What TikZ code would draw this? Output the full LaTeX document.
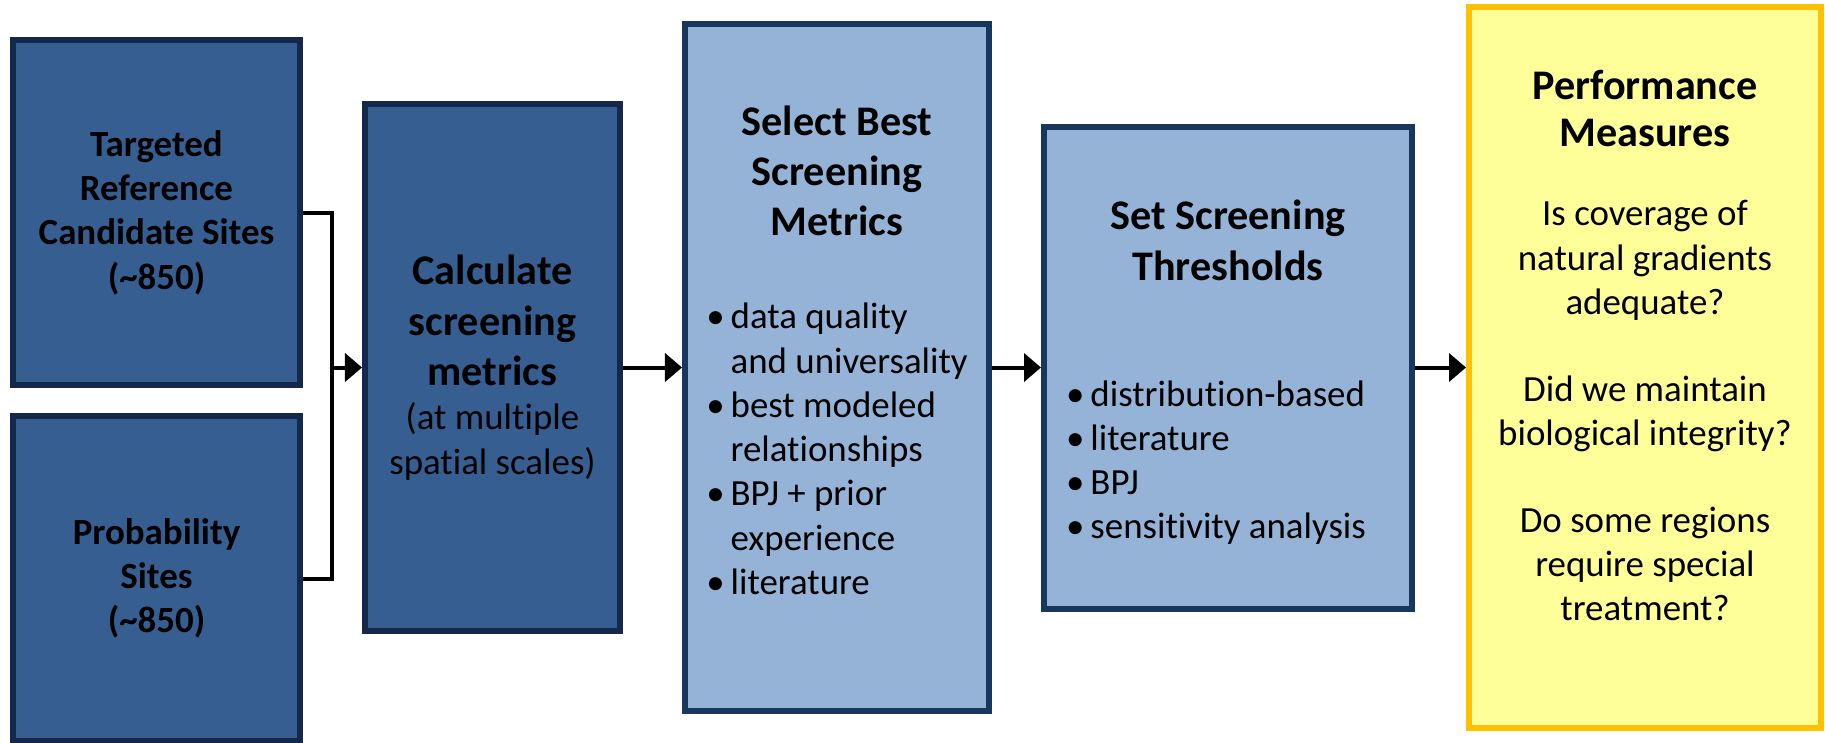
\documentclass[tikz,border=0pt]{standalone}
\usepackage{fontspec}
\setmainfont{Carlito}[Ligatures=NoCommon]
\usetikzlibrary{positioning,arrows.meta}

\definecolor{steelfill}{HTML}{365E91}
\definecolor{navyline}{HTML}{14284B}
\definecolor{palefill}{HTML}{95B3D7}
\definecolor{paleline}{HTML}{17375E}
\definecolor{lemonfill}{HTML}{FFFF99}
\definecolor{amberline}{HTML}{FFC000}

\newcommand{\headsize}{\fontsize{24}{28.7}\selectfont\bfseries}
\newcommand{\bodysize}{\fontsize{21}{25.2}\selectfont}

\begin{document}
\begin{tikzpicture}[
  box/.style={draw, line width=0.12cm, align=flush center, inner sep=0pt},
  darkbox/.style={box, draw=navyline, fill=steelfill, font=\bodysize},
  lightbox/.style={box, draw=paleline, fill=palefill, font=\bodysize},
  perfbox/.style={box, draw=amberline, fill=lemonfill, font=\bodysize},
  arr/.style={-{Triangle[length=0.34cm, width=0.56cm]}, line width=0.08cm},
  bar/.style={line width=0.08cm}
]
\useasboundingbox (-9.85,-7.51) rectangle (26.65,7.35);

% the main row
\node[darkbox, minimum width=5.10cm, minimum height=10.54cm, text width=4.9cm] (calc) at (0,0)
  {{\headsize Calculate\\screening\\metrics\par}(at multiple\\spatial scales)};
\node[lightbox, right=1.18cm of calc, minimum width=6.08cm, minimum height=13.74cm, text width=5.9cm] (select)
  {{\headsize Select Best\\Screening\\Metrics\par}
   \vspace{0.97cm}
   \begin{tabular}[t]{@{}l@{\hspace{0.12cm}}l@{}}
   \textbullet & data quality\\
               & and universality\\
   \textbullet & best modeled\\
               & relationships\\
   \textbullet & BPJ + prior\\
               & experience\\
   \textbullet & literature
   \end{tabular}\par
   \rule{0pt}{0.4cm}};
\node[lightbox, right=0.98cm of select, minimum width=7.36cm, minimum height=9.64cm, text width=7.1cm] (thresh)
  {{\headsize\rule{0pt}{0.94cm}Set Screening\\Thresholds\par}
   \vspace{1.63cm}
   \hspace*{-0.48cm}\begin{tabular}[t]{@{}l@{\hspace{0.12cm}}l@{}}
   \textbullet & distribution-based\\
   \textbullet & literature\\
   \textbullet & BPJ\\
   \textbullet & sensitivity analysis
   \end{tabular}\par};
\node[perfbox, right=1.02cm of thresh, minimum width=7.04cm, minimum height=14.42cm, text width=6.9cm] (perf)
  {{\fontsize{24}{27}\selectfont\bfseries Performance\\Measures\par}
   \vspace{0.7cm}
   Is coverage of\\natural gradients\\adequate?\par
   \vspace{0.85cm}
   Did we maintain\\biological integrity?\par
   \vspace{0.85cm}
   Do some regions\\require special\\treatment?\par
   \rule{0pt}{0.85cm}};

% the two site pools
\node[darkbox, left=1.18cm of calc, yshift=3.1cm, minimum width=5.74cm, minimum height=6.90cm, text width=5.5cm, font=\bodysize\bfseries] (target)
  {Targeted\\Reference\\Candidate Sites\\(\textasciitilde850)};
\node[darkbox, left=1.18cm of calc, yshift=-4.22cm, minimum width=5.74cm, minimum height=6.50cm, text width=5.5cm, font=\bodysize\bfseries] (prob)
  {Probability\\Sites\\(\textasciitilde850)};

% bracket and arrows
\coordinate (joint) at ([xshift=0.58cm]target.east |- calc.west);
\draw[bar] (target.east) -| (joint) |- (prob.east);
\draw[arr] (joint) -- (calc.west);
\draw[arr] (calc) -- (select);
\draw[arr] (select) -- (thresh);
\draw[arr] (thresh) -- (perf);
\end{tikzpicture}
\end{document}
